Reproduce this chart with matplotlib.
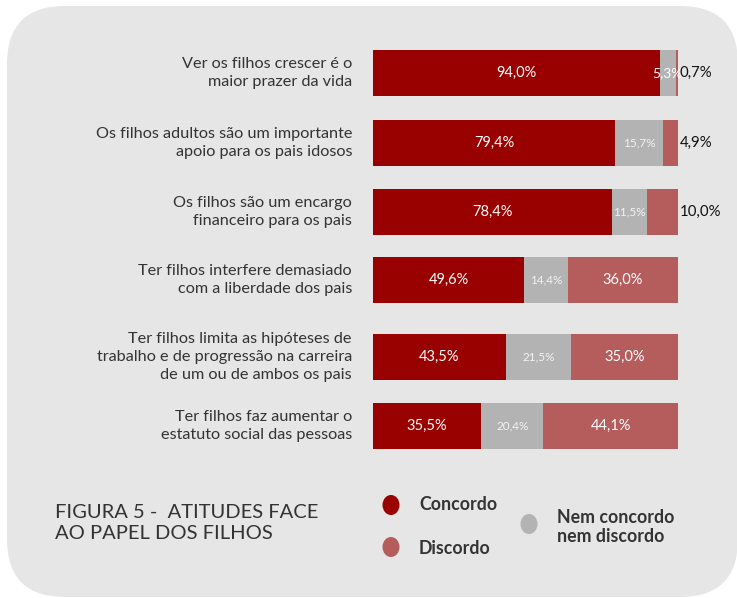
import matplotlib
matplotlib.use("Agg")
import matplotlib.pyplot as plt
from matplotlib.patches import FancyBboxPatch, Ellipse

categories = [
    "Ver os filhos crescer é o\nmaior prazer da vida",
    "Os filhos adultos são um importante\napoio para os pais idosos",
    "Os filhos são um encargo\nfinanceiro para os pais",
    "Ter filhos interfere demasiado\ncom a liberdade dos pais",
    "Ter filhos limita as hipóteses de\ntrabalho e de progressão na carreira\nde um ou de ambos os pais",
    "Ter filhos faz aumentar o\nestatuto social das pessoas",
]
concordo = [94.0, 79.4, 78.4, 49.6, 43.5, 35.5]
nem = [5.3, 15.7, 11.5, 14.4, 21.5, 20.4]
discordo = [0.7, 4.9, 10.0, 36.0, 35.0, 44.1]
series_names = ["Concordo", "Discordo", "Nem concordo\nnem discordo"]
title = "FIGURA 5 -  ATITUDES FACE\nAO PAPEL DOS FILHOS"

C_CON = "#990000"
C_NEM = "#b3b3b3"
C_DIS = "#b55c5c"
TXT = "#333333"
FONT = "Lato"

def fmt(v):
    return f"{v:.1f}%".replace(".", ",")

W, H = 737, 598
fig = plt.figure(figsize=(W / 100, H / 100), dpi=100)
fig.patch.set_facecolor("white")

# background panel axes in pixel coordinates
bg = fig.add_axes([0, 0, 1, 1], zorder=0)
bg.set_xlim(0, W)
bg.set_ylim(H, 0)
bg.axis("off")
bg.add_patch(FancyBboxPatch((7, 6), 731, 591,
                            boxstyle="round,pad=0,rounding_size=58",
                            facecolor="#e6e6e6", edgecolor="none"))

# bar axes
x0, x1 = 373, 678
y_top, y_bot = 40, 460
ax = fig.add_axes([x0 / W, 1 - y_bot / H, (x1 - x0) / W, (y_bot - y_top) / H], zorder=1)
ax.set_xlim(0, 100)
ax.set_ylim(y_bot, y_top)
ax.axis("off")
ax.patch.set_alpha(0)

ypos = [73, 143, 212, 280, 357, 426]
bh = 46

left_nem = [c for c in concordo]
left_dis = [c + n for c, n in zip(concordo, nem)]
ax.barh(ypos, concordo, height=bh, color=C_CON, linewidth=0)
ax.barh(ypos, nem, left=left_nem, height=bh, color=C_NEM, linewidth=0)
ax.barh(ypos, discordo, left=left_dis, height=bh, color=C_DIS, linewidth=0)

for i, y in enumerate(ypos):
    ax.text(concordo[i] / 2, y, fmt(concordo[i]), ha="center", va="center",
            color="white", fontsize=10.5, family=FONT)
    nem_size = 10 if i == 0 else 8.5
    nem_col = "white" if i == 0 else "#f2f2f2"
    ax.text(left_nem[i] + nem[i] / 2, y, fmt(nem[i]), ha="center", va="center",
            color=nem_col, fontsize=nem_size, family=FONT)
    if discordo[i] >= 20:
        ax.text(left_dis[i] + discordo[i] / 2, y, fmt(discordo[i]), ha="center",
                va="center", color="white", fontsize=10.5, family=FONT)
    else:
        ax.annotate(fmt(discordo[i]), xy=(100, y), xytext=(2, 0),
                    textcoords="offset pixels", ha="left", va="center",
                    color="#111111", fontsize=10.8, family=FONT)
    ax.annotate(categories[i], xy=(0, y), xytext=(-21, 0), textcoords="offset pixels",
                ha="right", va="center", color=TXT, fontsize=11.7, family=FONT,
                linespacing=1.38, annotation_clip=False)

# title
bg.text(55, 523, title, ha="left", va="center", fontsize=14.5, color=TXT,
        family=FONT, linespacing=1.3)

# legend
leg = [(391, 505, C_CON, 419, 505, series_names[0]),
       (391, 547, C_DIS, 419, 549, series_names[1]),
       (529, 524, C_NEM, 557, 527, series_names[2])]
for cx, cy, col, tx, ty, lab in leg:
    bg.add_patch(Ellipse((cx, cy), 17, 20, facecolor=col, edgecolor="none"))
    bg.text(tx, ty, lab, ha="left", va="center", fontsize=12.8, color=TXT,
            family=FONT, fontweight="bold", linespacing=1.15)

fig.savefig("out.png", dpi=100, facecolor="white")
